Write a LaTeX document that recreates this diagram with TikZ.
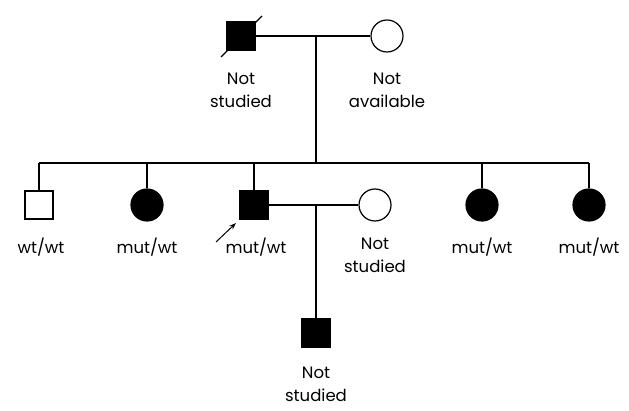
\documentclass[tikz,border=0pt]{standalone}
\usepackage{fontspec}
\setmainfont{Poppins}
\usetikzlibrary{arrows.meta}
\begin{document}
\begin{tikzpicture}[x=1pt,y=-1pt,line width=1.2pt,
  male/.style={draw,rectangle,minimum size=28pt,inner sep=0pt},
  female/.style={draw,circle,minimum size=32pt,inner sep=0pt},
  aff/.style={fill=black},
  unaff/.style={fill=white},
  lbl/.style={font=\fontsize{16.5}{23}\selectfont,align=center,anchor=north,inner sep=0pt}]
\useasboundingbox (0,0) rectangle (629,411);
% generation I
\node[male,aff] (I1) at (241,36) {};
\node[female,unaff] (I2) at (387,36) {};
\coordinate (slashA) at (221,57);
\coordinate (slashB) at (262,16);
\draw (slashA) -- (slashB);
\node[lbl] (lI1) at (241,72) {Not\\studied};
\node[lbl] (lI2) at (387,72) {Not\\available};
\coordinate (m1) at (316,36);
\draw (I1.east) -- (I2.west);
\coordinate (s1) at (316,163);
\draw (m1) -- (s1);
% generation II
\node[male,unaff] (II1) at (39,205) {};
\node[female,aff] (II2) at (147,205) {};
\node[male,aff] (II3) at (254,205) {};
\node[female,unaff] (II4) at (375,205) {};
\node[female,aff] (II5) at (482,205) {};
\node[female,aff] (II6) at (589,205) {};
\coordinate (sL) at (39,163);
\coordinate (sR) at (589,163);
\draw (sL) -- (sR);
\foreach \n in {II1,II2,II3,II5,II6} \draw (\n.north) -- (\n.north |- sL);
\draw (II3.east) -- (II4.west);
\coordinate (m2) at (316,205);
\node[lbl] (lII1) at (41,237) {wt/wt};
\node[lbl] (lII2) at (147,237) {mut/wt};
\node[lbl] (lII3) at (256,237) {mut/wt};
\node[lbl] (lII4) at (375,237) {Not\\studied};
\node[lbl] (lII5) at (482,237) {mut/wt};
\node[lbl] (lII6) at (589,237) {mut/wt};
\coordinate (arrS) at (216,242);
\coordinate (arrE) at (236,223);
\draw[line width=1pt,-{Stealth[length=7pt,width=5pt]}] (arrS) -- (arrE);
% generation III
\node[male,aff] (III1) at (316,333) {};
\draw (m2) -- (III1.north);
\node[lbl] (lIII1) at (316,366) {Not\\studied};
\end{tikzpicture}
\end{document}
